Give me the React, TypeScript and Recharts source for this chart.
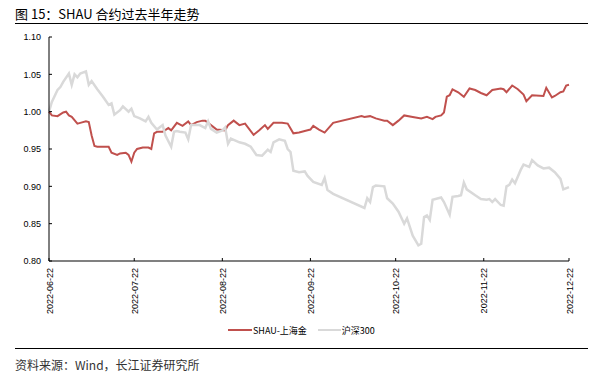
import React from 'react';
import { LineChart, Line, XAxis, YAxis } from 'recharts';

// 横轴：距 2022-06-22 的自然日
const tickDates = ['2022-06-22', '2022-07-22', '2022-08-22', '2022-09-22', '2022-10-22', '2022-11-22', '2022-12-22'];
const yTicks = [0.8, 0.85, 0.9, 0.95, 1.0, 1.05, 1.1];

const shauDays = [0, 1, 3, 5, 6, 7, 8, 10, 11, 13, 14, 15, 16, 17, 21, 22, 24, 25, 27, 28, 29, 30, 31, 33, 35, 36, 37, 38, 40, 42, 43, 45, 46, 47, 49, 50, 52, 54, 55, 57, 59, 62, 63, 65, 67, 69, 72, 74, 76, 77, 79, 82, 84, 86, 88, 91, 92, 93, 95, 97, 100, 110, 111, 113, 115, 118, 119, 121, 123, 125, 128, 131, 133, 135, 136, 138, 139, 140, 141, 142, 144, 146, 148, 150, 152, 154, 156, 159, 160, 161, 163, 165, 167, 168, 170, 174, 175, 177, 178, 180, 181, 182, 183];
const shauValues = [1.000, 0.995, 0.994, 0.999, 1.000, 0.995, 0.993, 0.984, 0.985, 0.987, 0.986, 0.968, 0.954, 0.953, 0.953, 0.945, 0.942, 0.944, 0.945, 0.942, 0.933, 0.945, 0.950, 0.952, 0.952, 0.950, 0.971, 0.973, 0.973, 0.978, 0.975, 0.985, 0.983, 0.981, 0.987, 0.982, 0.986, 0.988, 0.988, 0.982, 0.976, 0.975, 0.982, 0.988, 0.982, 0.984, 0.969, 0.975, 0.982, 0.977, 0.985, 0.985, 0.984, 0.971, 0.972, 0.975, 0.976, 0.981, 0.976, 0.972, 0.985, 0.994, 0.993, 0.994, 0.991, 0.988, 0.988, 0.982, 0.988, 0.995, 0.993, 0.991, 0.993, 0.990, 0.993, 0.995, 0.999, 1.020, 1.022, 1.030, 1.026, 1.020, 1.031, 1.029, 1.025, 1.022, 1.029, 1.031, 1.030, 1.026, 1.035, 1.030, 1.023, 1.014, 1.022, 1.021, 1.032, 1.019, 1.021, 1.026, 1.027, 1.035, 1.036];

const hs300Days = [0, 1, 3, 4, 5, 7, 8, 9, 10, 11, 13, 14, 15, 17, 19, 21, 22, 23, 25, 26, 28, 29, 30, 32, 34, 35, 36, 38, 39, 40, 41, 43, 44, 45, 46, 48, 49, 50, 53, 55, 56, 57, 59, 61, 62, 63, 64, 67, 69, 71, 73, 75, 77, 78, 79, 81, 83, 84, 85, 86, 88, 90, 91, 93, 96, 97, 98, 100, 111, 112, 113, 114, 115, 118, 119, 121, 123, 125, 126, 128, 130, 131, 132, 133, 134, 135, 138, 139, 141, 142, 144, 145, 146, 147, 150, 152, 154, 155, 156, 157, 159, 160, 161, 162, 163, 164, 166, 167, 169, 170, 172, 174, 176, 178, 180, 181, 183];
const hs300Values = [1.000, 1.013, 1.029, 1.033, 1.040, 1.051, 1.036, 1.050, 1.046, 1.051, 1.054, 1.036, 1.041, 1.030, 1.020, 1.009, 1.011, 0.996, 1.002, 1.007, 1.000, 1.004, 0.994, 0.991, 0.987, 0.993, 0.985, 0.976, 0.979, 0.982, 0.968, 0.953, 0.973, 0.974, 0.973, 0.972, 0.963, 0.982, 0.982, 0.978, 0.987, 0.977, 0.972, 0.975, 0.979, 0.957, 0.964, 0.959, 0.957, 0.953, 0.942, 0.941, 0.949, 0.946, 0.959, 0.963, 0.961, 0.950, 0.946, 0.921, 0.919, 0.920, 0.914, 0.906, 0.902, 0.911, 0.895, 0.890, 0.871, 0.884, 0.879, 0.899, 0.901, 0.900, 0.884, 0.877, 0.866, 0.850, 0.857, 0.834, 0.821, 0.823, 0.859, 0.861, 0.855, 0.882, 0.885, 0.879, 0.862, 0.886, 0.887, 0.888, 0.905, 0.896, 0.888, 0.883, 0.882, 0.883, 0.879, 0.883, 0.875, 0.874, 0.900, 0.902, 0.909, 0.904, 0.922, 0.929, 0.926, 0.935, 0.928, 0.924, 0.925, 0.919, 0.910, 0.896, 0.899];

const DAY = 24 * 3600 * 1000;
const start = Date.parse(tickDates[0]);
const xTicks = tickDates.map((d) => Math.round((Date.parse(d) - start) / DAY));

const shauData = shauDays.map((d, i) => ({ d, v: shauValues[i] }));
const hs300Data = hs300Days.map((d, i) => ({ d, v: hs300Values[i] }));

const RED = '#C0504D';
const GRAY = '#D9D9D9';
const LATIN = '"Liberation Sans", Arial, sans-serif';
const CJK = '"Noto Sans CJK SC", "Liberation Sans", sans-serif';

const XTick = (props: any) => {
  const { x, y, payload } = props;
  const idx = xTicks.indexOf(payload.value);
  return (
    <g transform={`translate(${x},${y})`}>
      <text transform="rotate(-90)" textAnchor="end" dy={3.5} fontSize={9} fontFamily={LATIN} fill="#000">
        {tickDates[idx]}
      </text>
    </g>
  );
};

export default function App() {
  return (
    <div style={{ position: 'absolute', left: 0, top: 0, width: 596, height: 378, background: '#fff' }}>
      <div style={{ position: 'absolute', left: 15, top: 5, fontSize: 13, fontFamily: CJK, color: '#000', lineHeight: '18px' }}>
        图 15：SHAU 合约过去半年走势
      </div>
      <div style={{ position: 'absolute', left: 15, top: 23, width: 573, height: 1, background: '#000' }} />

      <LineChart width={596} height={378} margin={{ top: 37, right: 27, left: 0, bottom: 57 }}>
        <XAxis
          dataKey="d"
          type="number"
          domain={[0, xTicks[xTicks.length - 1]]}
          ticks={xTicks}
          height={60}
          tick={<XTick />}
          tickSize={-3}
          tickMargin={10}
          axisLine={{ stroke: '#808080', strokeWidth: 2 }}
          tickLine={{ stroke: '#000' }}
          allowDuplicatedCategory={false}
        />
        <YAxis
          type="number"
          domain={[0.8, 1.1]}
          ticks={yTicks}
          width={49}
          tickFormatter={(v: number) => v.toFixed(2)}
          tick={{ fontSize: 9, fontFamily: LATIN, fill: '#000' }}
          tickSize={-3}
          tickMargin={11}
          axisLine={{ stroke: '#000' }}
          tickLine={{ stroke: '#000' }}
        />
        <Line
          data={shauData}
          dataKey="v"
          type="linear"
          stroke={RED}
          strokeWidth={2}
          dot={false}
          isAnimationActive={false}
          name="SHAU-上海金"
        />
        <Line
          data={hs300Data}
          dataKey="v"
          type="linear"
          stroke={GRAY}
          strokeWidth={2.5}
          dot={false}
          isAnimationActive={false}
          name="沪深300"
        />
      </LineChart>

      {/* 图例 */}
      <div style={{ position: 'absolute', left: 228, top: 322, height: 16, display: 'flex', alignItems: 'center', fontSize: 9, fontFamily: CJK, color: '#000' }}>
        <span style={{ display: 'inline-block', width: 24, height: 2.5, background: RED, marginRight: 1 }} />
        <span style={{ marginRight: 11 }}>SHAU-上海金</span>
        <span style={{ display: 'inline-block', width: 23, height: 2.5, background: GRAY, marginRight: 1 }} />
        <span>沪深300</span>
      </div>

      <div style={{ position: 'absolute', left: 15, top: 348, width: 573, height: 1, background: '#000' }} />
      <div style={{ position: 'absolute', left: 15, top: 356, fontSize: 12, fontFamily: CJK, color: '#333', lineHeight: '18px' }}>
        资料来源：Wind，长江证券研究所
      </div>
    </div>
  );
}
